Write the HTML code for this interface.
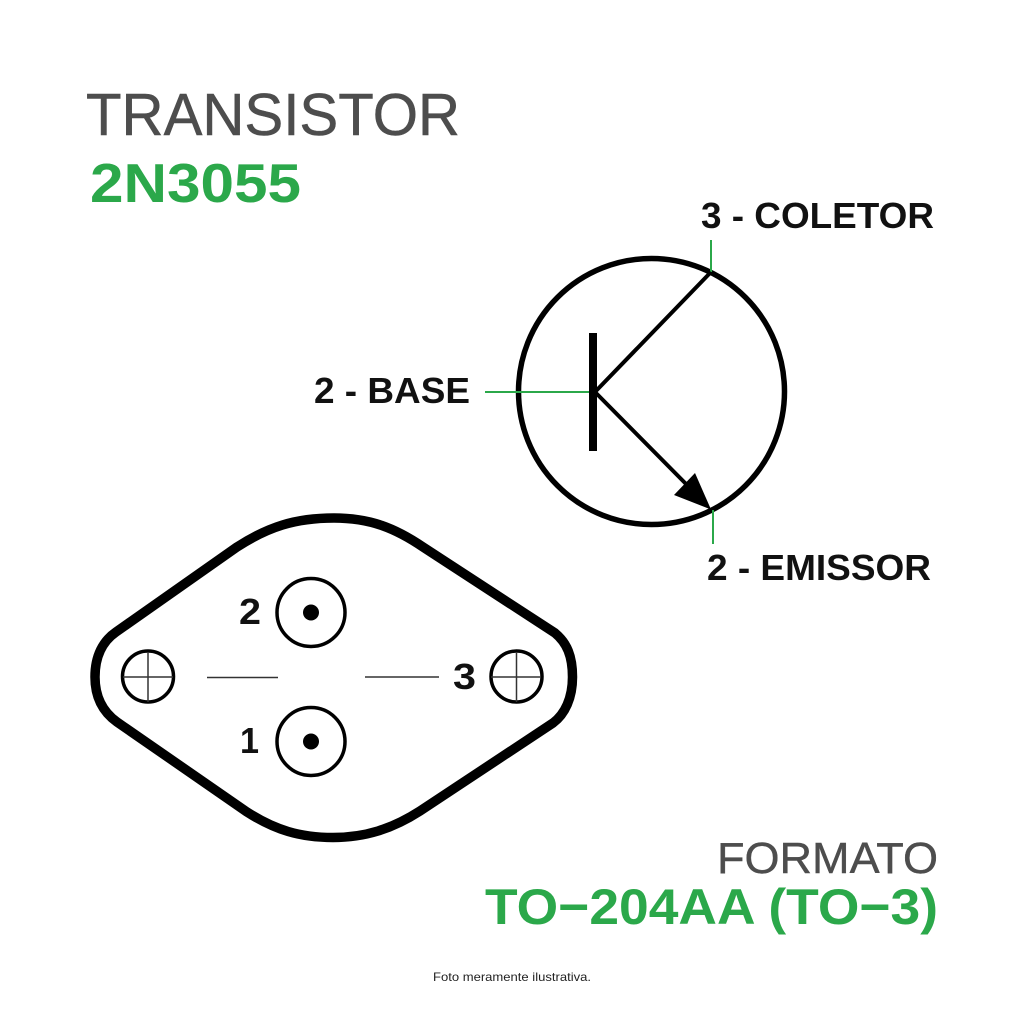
<!DOCTYPE html>
<html><head><meta charset="utf-8"><style>html,body{margin:0;padding:0;background:#fff}svg{display:block}text{font-family:"Liberation Sans",sans-serif}</style></head>
<body><svg width="1024" height="1024" viewBox="0 0 1024 1024" xmlns="http://www.w3.org/2000/svg">
<rect width="1024" height="1024" fill="#fff"/>
<text x="86" y="135" font-size="59" fill="#4d4d4d" stroke="#4d4d4d" stroke-width=".5" textLength="374" lengthAdjust="spacingAndGlyphs">TRANSISTOR</text>
<text x="90" y="202" font-size="55" font-weight="bold" fill="#2ba84a" textLength="211" lengthAdjust="spacingAndGlyphs">2N3055</text>
<text x="717" y="873" font-size="44" fill="#4d4d4d" stroke="#4d4d4d" stroke-width=".4" textLength="221" lengthAdjust="spacingAndGlyphs">FORMATO</text>
<text x="485" y="924" font-size="50" font-weight="bold" fill="#2ba84a" textLength="453" lengthAdjust="spacingAndGlyphs">TO−204AA (TO−3)</text>
<text x="433" y="981" font-size="12" fill="#222" textLength="158" lengthAdjust="spacingAndGlyphs">Foto meramente ilustrativa.</text>
<g font-size="36" font-weight="bold" fill="#111">
<text x="701" y="228" textLength="233" lengthAdjust="spacingAndGlyphs">3 - COLETOR</text>
<text x="314" y="403" textLength="156" lengthAdjust="spacingAndGlyphs">2 - BASE</text>
<text x="707" y="580" textLength="224" lengthAdjust="spacingAndGlyphs">2 - EMISSOR</text>
<text x="239" y="624" textLength="22" lengthAdjust="spacingAndGlyphs">2</text>
<text x="240" y="753" textLength="19" lengthAdjust="spacingAndGlyphs">1</text>
<text x="453" y="689" textLength="23" lengthAdjust="spacingAndGlyphs">3</text>
</g>
<circle cx="651.500" cy="391.500" r="133" fill="none" stroke="#000" stroke-width="5.500"/>
<g stroke="#2ba84a" stroke-width="2" fill="none">
<path d="M711 240V272"/><path d="M485 392H590"/><path d="M713 510V544"/>
</g>
<rect x="589" y="333" width="8" height="118" fill="#000"/>
<path d="M594 393L711 272M594 391L692 490" stroke="#000" stroke-width="4" fill="none"/>
<path d="M711 509.500L674 495L695 473Z" fill="#000"/>
<path d="M334 518C295 518 268 527 237 547L116 632C103 641 95 656 95 677C95 697 103 712 117 722L247 812C275 830 300 837.500 333 837.500C365 837.500 392 829 420 811L553 723C565 714 572.500 698 572.500 677C572.500 656 567 643 555 633L423 547C395 528 370 518 334 518Z" fill="none" stroke="#000" stroke-width="9.500"/>
<g fill="none" stroke="#000" stroke-width="3.500">
<circle cx="311" cy="612.500" r="34"/><circle cx="311" cy="741.500" r="34"/>
<circle cx="148" cy="676.500" r="25.500"/><circle cx="516.500" cy="676.500" r="25.500"/>
</g>
<circle cx="311" cy="612.500" r="8"/><circle cx="311" cy="741.500" r="8"/>
<g stroke="#333" stroke-width="1.500">
<path d="M123 677H173M148 652V702M491 677H541M516.500 652V702"/>
<path d="M207 677.500H278M365 677H439"/>
</g>
</svg></body></html>
